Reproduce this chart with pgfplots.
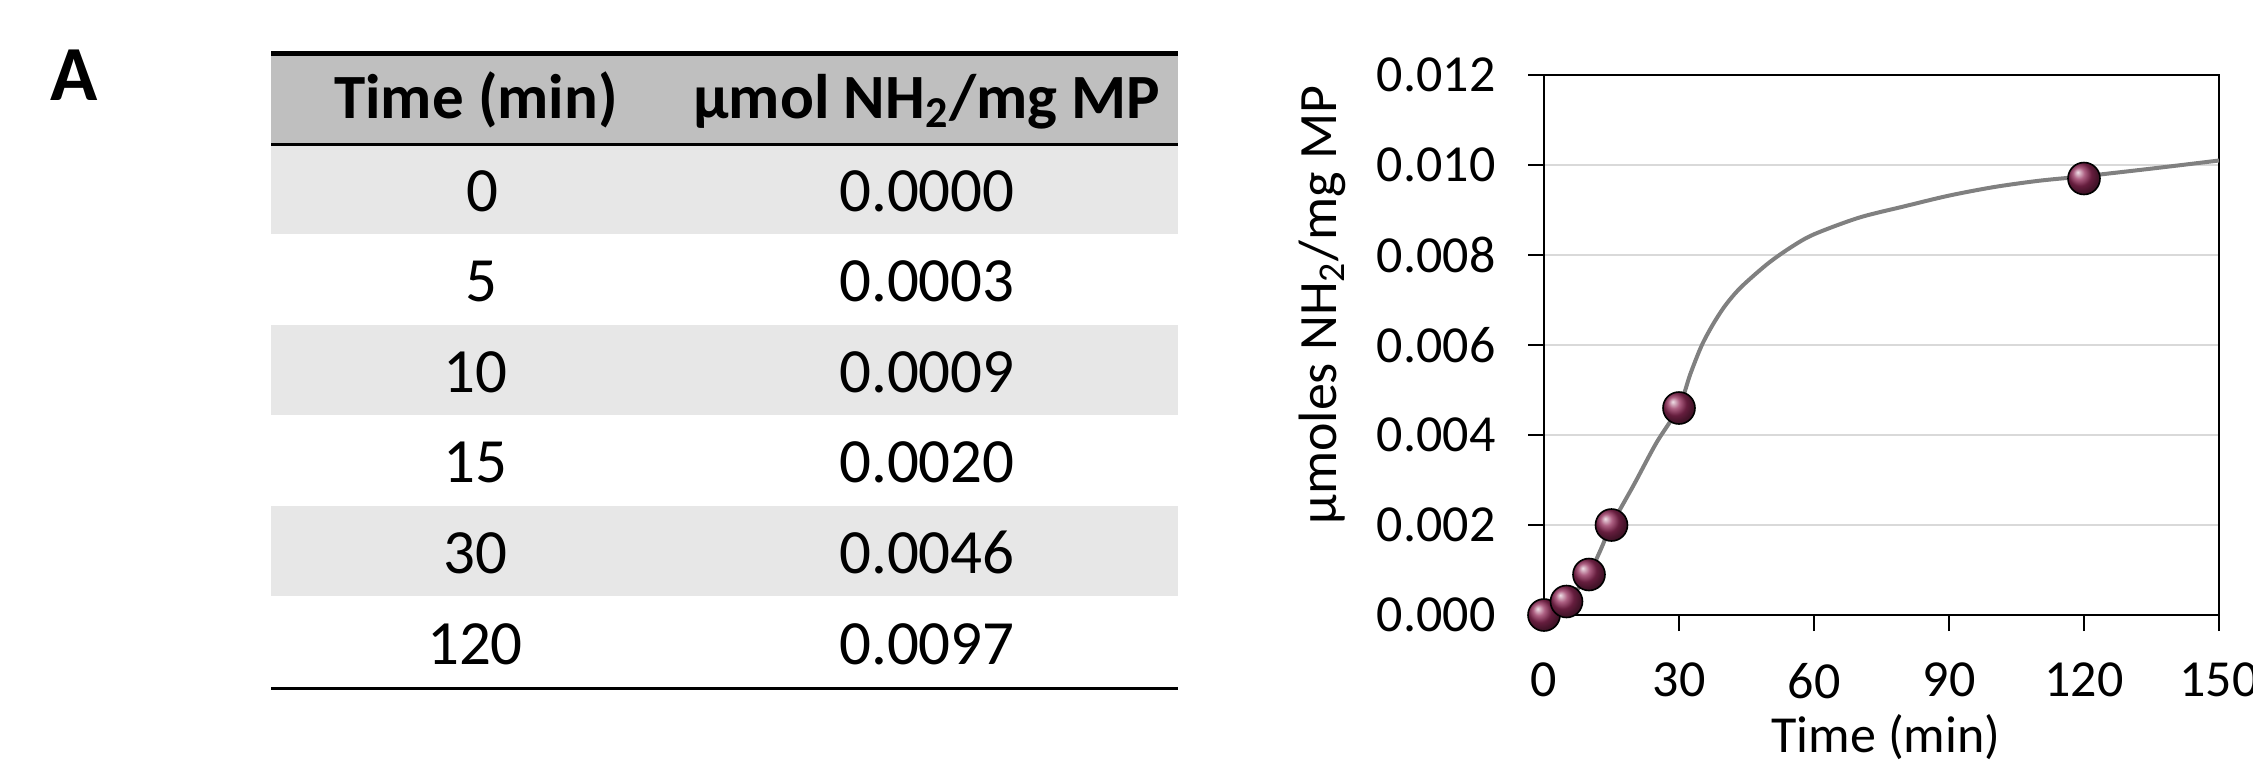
\documentclass[border=0pt]{standalone}
\usepackage{fontspec}
\setmainfont{Carlito}
\usepackage{pgfplots}
\pgfplotsset{compat=1.18}
\definecolor{hdrgray}{RGB}{191,191,191}
\definecolor{rowgray}{RGB}{231,231,231}
\definecolor{curvegray}{RGB}{128,128,128}
\definecolor{gridgray}{RGB}{217,217,217}
\definecolor{ballc}{RGB}{145,42,88}
\begin{document}
\begin{tikzpicture}
\begin{scope}[x=0.25pt,y=-0.25pt,yshift=191pt]
  % table backgrounds
  \fill[hdrgray] (271,53) rectangle (1178,144);
  \fill[rowgray] (271,144) rectangle (1178,234);
  \fill[rowgray] (271,325) rectangle (1178,415);
  \fill[rowgray] (271,506) rectangle (1178,596);
  \draw[line width=1.25pt] (271,53) -- (1178,53);
  \draw[line width=0.75pt] (271,144.5) -- (1178,144.5);
  \draw[line width=0.75pt] (271,688) -- (1178,688);
  % header
  \node[anchor=base, inner sep=0, font=\bfseries\fontsize{15.75}{18}\selectfont] at (476,118) {Time (min)};
  \node[anchor=base, inner sep=0, font=\bfseries\fontsize{15.75}{18}\selectfont] at (927,118) {µmol NH\textsubscript{2}/mg MP};
  % rows
  \begin{scope}[every node/.style={anchor=base, inner sep=0, font=\fontsize{15.75}{18}\selectfont}]
    \node at (482,211) {0};     \node at (927,211) {0.0000};
    \node at (481,301.5) {5};   \node at (927,301.5) {0.0003};
    \node at (475,392) {10};    \node at (927,392) {0.0009};
    \node at (475,482.5) {15};  \node at (927,482.5) {0.0020};
    \node at (475,573) {30};    \node at (927,573) {0.0046};
    \node at (475,664) {120};   \node at (927,664) {0.0097};
  \end{scope}
  % panel letter
  \node[anchor=base west, inner sep=0, font=\bfseries\fontsize{19.5}{22}\selectfont] at (50,100) {A};
  % axis labels
  \node[rotate=90, anchor=base, inner sep=0, font=\fontsize{13.5}{16}\selectfont] at (1336,305) {µmoles NH\textsubscript{2}/mg MP};
  \node[anchor=base, inner sep=0, font=\fontsize{13}{15}\selectfont] at (1886,752) {Time (min)};
\end{scope}
\begin{axis}[
  at={(386pt,37.25pt)}, anchor=south west,
  scale only axis, width=168.75pt, height=135pt,
  xmin=0, xmax=150, ymin=0, ymax=0.012,
  xtick={0,30,60,90,120,150},
  ytick={0,0.002,0.004,0.006,0.008,0.010,0.012},
  scaled y ticks=false,
  yticklabel style={/pgf/number format/.cd, fixed, fixed zerofill, precision=3, /tikz/.cd, xshift=-4.6pt},
  xticklabel style={yshift=-4.5pt},
  tick label style={font=\fontsize{13}{15}\selectfont},
  /pgf/number format/assume math mode=true,
  tick align=outside, tick pos=left, major tick length=4pt,
  tick style={black, line width=0.5pt},
  axis line style={black, line width=0.5pt},
  ymajorgrids, major grid style={gridgray, line width=0.5pt},
  clip=false,
]
\addplot[curvegray, line width=1pt, smooth, tension=0.5] coordinates {
 (0,0) (2.5,0.00013) (5,0.0003) (7.5,0.00058) (10,0.0009) (12.5,0.00143)
 (15,0.0020) (20,0.00290) (25,0.00383) (30,0.00462) (32.5,0.00535)
 (35,0.00598) (37.5,0.00645) (40,0.00684) (42.5,0.00715) (45,0.00740)
 (50,0.00783) (55,0.00818) (60,0.00846) (70,0.00883) (80,0.00908) (90,0.00932)
 (100,0.00951) (110,0.00965) (120,0.00975) (135,0.00992) (150,0.0101)
};
\addplot[only marks, mark=ball, mark size=4pt, mark options={ball color=ballc}] coordinates {
 (0,0) (5,0.0003) (10,0.0009) (15,0.0020) (30,0.0046) (120,0.0097)
};
\end{axis}
\pgfresetboundingbox
\useasboundingbox (0,0) rectangle (563.25pt,191pt);
\end{tikzpicture}
\end{document}
